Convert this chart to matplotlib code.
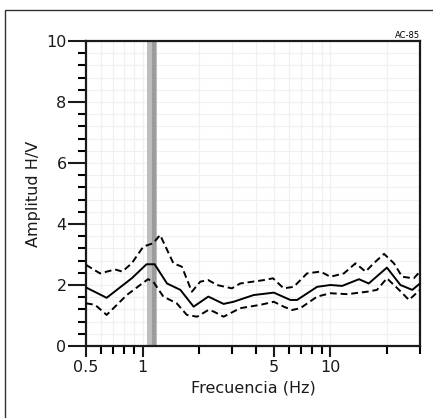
import numpy as np
import matplotlib
matplotlib.use("Agg")
import matplotlib.pyplot as plt
from matplotlib.patches import Rectangle
from matplotlib.ticker import FixedLocator, NullFormatter, FormatStrFormatter

# --- H/V spectral ratio, station AC-85 ---
freq_mean = [0.5, 0.644, 0.876, 1.05, 1.16, 1.35, 1.59, 1.87, 2.24, 2.70, 3.05,
             3.90, 5.0, 6.12, 6.65, 8.5, 10.0, 11.55, 14.2, 16.0, 20.0, 23.6, 27.3, 30.0]
hv_mean = [1.92, 1.58, 2.22, 2.68, 2.68, 2.05, 1.84, 1.29, 1.62, 1.38, 1.45,
           1.67, 1.75, 1.51, 1.51, 1.94, 2.00, 1.97, 2.19, 2.05, 2.57, 2.00, 1.84, 2.05]

freq_up = [0.5, 0.594, 0.714, 0.78, 0.876, 1.01, 1.14, 1.24, 1.46, 1.62, 1.83, 2.03,
           2.24, 2.49, 2.99, 3.31, 4.41, 4.95, 5.64, 6.38, 7.51, 8.85, 10.0, 11.8,
           13.6, 15.4, 17.0, 19.3, 21.8, 24.1, 27.8, 30.0]
hv_up = [2.66, 2.38, 2.51, 2.44, 2.71, 3.26, 3.37, 3.64, 2.71, 2.60, 1.78, 2.11,
         2.16, 2.00, 1.89, 2.05, 2.16, 2.22, 1.89, 1.94, 2.38, 2.44, 2.27, 2.38,
         2.71, 2.44, 2.71, 3.02, 2.71, 2.27, 2.22, 2.44]

freq_low = [0.5, 0.559, 0.644, 0.714, 0.824, 0.971, 1.07, 1.14, 1.29, 1.52, 1.72,
            1.95, 2.24, 2.39, 2.70, 3.31, 4.24, 5.0, 5.64, 6.25, 6.92, 8.5, 10.0,
            12.3, 15.7, 17.7, 20.0, 23.2, 26.2, 30.0]
hv_low = [1.40, 1.35, 1.02, 1.29, 1.67, 2.00, 2.19, 2.11, 1.62, 1.40, 1.02,
          0.96, 1.18, 1.13, 0.96, 1.24, 1.35, 1.45, 1.29, 1.18, 1.24, 1.62, 1.73,
          1.70, 1.78, 1.84, 2.22, 1.84, 1.51, 1.84]

# peak frequency band (f0 +- sigma) and inner band
f0_band = [1.05, 1.20]
f0_inner = [1.12, 1.18]

station = "AC-85"
xticks_major = [0.5, 1, 5, 10]
xticks_minor = [0.6, 0.7, 0.8, 0.9, 2, 3, 4, 6, 7, 8, 9, 20, 30]
yticks_major = [0, 2, 4, 6, 8, 10]
yticks_minor = [0.4, 0.8, 1.2, 1.6, 2.4, 2.8, 3.2, 3.6, 4.4, 4.8, 5.2, 5.6,
                6.4, 6.8, 7.2, 7.6, 8.4, 8.8, 9.2, 9.6]

W, H = 433, 418
fig = plt.figure(figsize=(W / 100, H / 100), dpi=100)
ax = fig.add_axes([86 / W, 1 - 346 / H, (420 - 86) / W, (346 - 41) / H])

# outer frame of the original figure, cut by the image edge
fig.patches.append(Rectangle((5 / W, -0.1), 1.2, 1 - 10 / H + 0.1,
                             transform=fig.transFigure, fill=False,
                             edgecolor="#333333", lw=1.0))

ax.axvspan(*f0_band, color="#bebebe", lw=0, zorder=1)
ax.axvspan(*f0_inner, color="#9c9c9c", lw=0, zorder=1)

ax.plot(freq_mean, hv_mean, color="black", lw=1.4, zorder=3)
ax.plot(freq_up, hv_up, color="black", lw=1.4, ls=(0, (3.5, 2)), zorder=3)
ax.plot(freq_low, hv_low, color="black", lw=1.4, ls=(0, (3.5, 2)), zorder=3)

ax.set_xscale("log")
ax.set_xlim(0.5, 30)
ax.set_ylim(0, 10)
ax.xaxis.set_major_locator(FixedLocator(xticks_major))
ax.xaxis.set_minor_locator(FixedLocator(xticks_minor))
ax.xaxis.set_major_formatter(FormatStrFormatter("%g"))
ax.xaxis.set_minor_formatter(NullFormatter())
ax.yaxis.set_major_locator(FixedLocator(yticks_major))
ax.yaxis.set_minor_locator(FixedLocator(yticks_minor))

ax.grid(True, which="both", color="#f0f0f0", lw=0.9, zorder=0)
ax.set_axisbelow(True)

for s in ax.spines.values():
    s.set_linewidth(1.6)
    s.set_color("#1a1a1a")
ax.tick_params(axis="x", which="major", direction="out", length=8, width=1.5,
               labelsize=11.5, pad=2, colors="#1a1a1a")
ax.tick_params(axis="x", which="minor", direction="out", length=6, width=1.5)
ax.tick_params(axis="y", which="major", direction="out", length=13, width=1.5,
               labelsize=11.5, pad=1, colors="#1a1a1a")
ax.tick_params(axis="y", which="minor", direction="out", length=6, width=1.5)

ax.set_xlabel("Frecuencia (Hz)", fontsize=11.5, labelpad=4, color="#1a1a1a")
ax.set_ylabel("Amplitud H/V", fontsize=11.5, labelpad=4, color="#1a1a1a")
ax.set_title(station, fontsize=6, loc="right", pad=2)

fig.savefig("out.png", dpi=100)
